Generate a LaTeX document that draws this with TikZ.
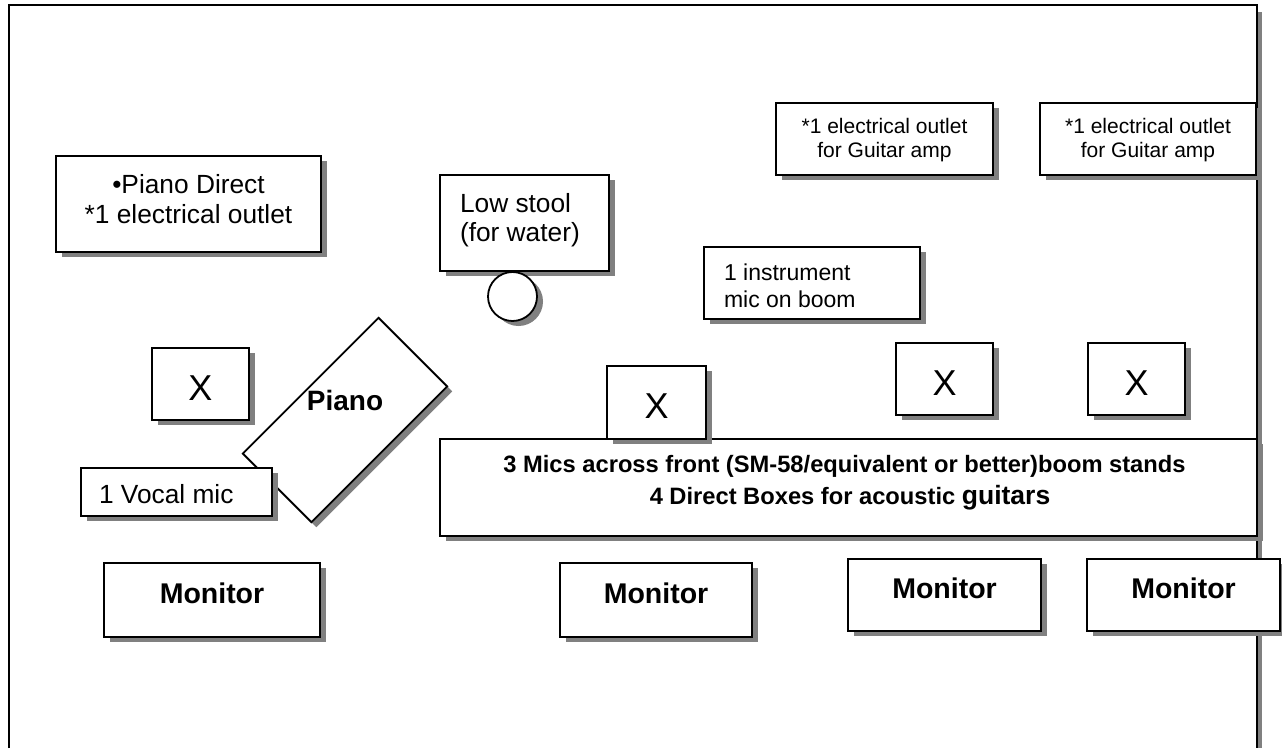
\documentclass[tikz,border=0pt]{standalone}
\usepackage{fontspec}
\setmainfont{Liberation Sans}
\usetikzlibrary{shadows}
\definecolor{shadowgray}{HTML}{808080}
\newcommand{\fs}[1]{\fontsize{#1}{#1}\selectfont}
\tikzset{
  box/.style={rectangle, draw=black, line width=1.8pt, fill=white, inner sep=0pt, outer sep=0pt,
    drop shadow={shadow xshift=6pt, shadow yshift=-5pt, fill=shadowgray, opacity=1}},
  lbl/.style={inner sep=0pt, outer sep=0pt, anchor=base},
  lblw/.style={inner sep=0pt, outer sep=0pt, anchor=base west},
  smalltxt/.style={font=\fs{21}},
  midtxt/.style={font=\fs{26.3}},
  xtxt/.style={font=\fs{36}},
  montxt/.style={font=\fs{28.5}\bfseries},
  pianoshape/.style={rectangle, minimum width=192pt, minimum height=97pt, inner sep=0pt, outer sep=0pt, rotate=45},
}
\begin{document}
\begin{tikzpicture}[x=1pt,y=-1pt]
\useasboundingbox (0,0) rectangle (1282,748);
\fill[white] (0,0) rectangle (1282,748);
% stage frame
\fill[shadowgray] (1257,12) rectangle (1262,748);
\draw[line width=2pt] (9,748) -- (9,5) -- (1257,5) -- (1257,748);

% Piano direct
\node[box, minimum width=265pt, minimum height=96pt] (pdirect) at (188.5,204) {};
\node[lbl, midtxt] (pdirect1) at (188.5,193) {•Piano Direct};
\node[lbl, midtxt] (pdirect2) at (188.5,223) {*1 electrical outlet};

% Low stool
\node[box, minimum width=169pt, minimum height=96pt] (stool) at (524.5,223) {};
\node[lblw, midtxt] (stool1) at (460,212) {Low stool};
\node[lblw, midtxt] (stool2) at (460,241) {(for water)};
\node[box, circle, minimum size=49pt] (water) at (512.5,296.5) {};

% instrument mic
\node[box, minimum width=216pt, minimum height=72pt] (instr) at (812,283) {};
\node[lblw, font=\fs{23}] (instr1) at (724,280) {1 instrument};
\node[lblw, font=\fs{23}] (instr2) at (724,307) {mic on boom};

% outlets
\node[box, minimum width=217pt, minimum height=72pt] (out1) at (884.5,139) {};
\node[lbl, smalltxt] (out1a) at (884.5,133) {*1 electrical outlet};
\node[lbl, smalltxt] (out1b) at (884.5,157) {for Guitar amp};
\node[box, minimum width=216pt, minimum height=72pt] (out2) at (1148,139) {};
\node[lbl, smalltxt] (out2a) at (1148,133) {*1 electrical outlet};
\node[lbl, smalltxt] (out2b) at (1148,157) {for Guitar amp};

% X positions
\node[box, minimum width=97pt, minimum height=72pt] (xl) at (200.5,384) {};
\node[lbl, xtxt] (xltxt) at (200.5,400) {X};
\node[box, minimum width=97pt, minimum height=72pt] (xr1) at (944.5,379) {};
\node[lbl, xtxt] (xr1txt) at (944.5,395) {X};
\node[box, minimum width=97pt, minimum height=72pt] (xr2) at (1136.5,379) {};
\node[lbl, xtxt] (xr2txt) at (1136.5,395) {X};

% front mics box
\node[box, minimum width=817pt, minimum height=97pt] (front) at (848.5,487.5) {};
\node[lbl, font=\fs{23.7}\bfseries] (front1) at (844.5,472) {3 Mics across front (SM-58/equivalent or better)boom stands};
\node[lbl, font=\fs{23.7}\bfseries] (front2) at (850,504) {4 Direct Boxes for acoustic {\fs{26.5}guitars}};

\node[box, minimum width=99pt, minimum height=73pt] (xm) at (656.5,402.5) {};
\node[lbl, xtxt] (xmtxt) at (656.5,418) {X};

% piano
\node[pianoshape, fill=shadowgray] (pianoshadow) at (350,425) {};
\node[pianoshape, draw=black, line width=1.8pt, fill=white] (piano) at (345,420) {};
\node[lbl, font=\fs{28}\bfseries] (pianotxt) at (345,410) {Piano};

% vocal mic
\node[box, minimum width=191pt, minimum height=48pt] (vocal) at (176.5,492) {};
\node[lblw, midtxt] (vocaltxt) at (99,503) {1 Vocal mic};

% monitors
\node[box, minimum width=216pt, minimum height=74pt] (m1) at (212,600) {};
\node[lbl, montxt] (m1t) at (212,603) {Monitor};
\node[box, minimum width=192pt, minimum height=74pt] (m2) at (656,600) {};
\node[lbl, montxt] (m2t) at (656,603) {Monitor};
\node[box, minimum width=193pt, minimum height=72pt] (m3) at (944.5,595) {};
\node[lbl, montxt] (m3t) at (944.5,598) {Monitor};
\node[box, minimum width=193pt, minimum height=72pt] (m4) at (1183.5,595) {};
\node[lbl, montxt] (m4t) at (1183.5,598) {Monitor};
\end{tikzpicture}
\end{document}
